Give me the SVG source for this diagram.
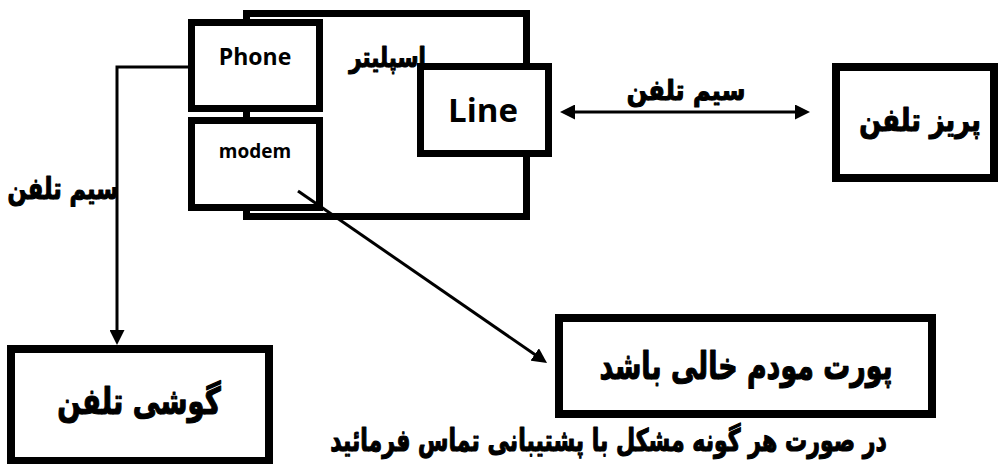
<svg xmlns="http://www.w3.org/2000/svg" width="999" height="464" viewBox="0 0 999 464">
<style>
.box{fill:#fff;stroke:#000;stroke-width:8}
.sbox{fill:#fff;stroke:#000;stroke-width:7}
.lat{font-family:"Open Sans","Liberation Sans",sans-serif;font-weight:700;fill:#000;text-anchor:middle}
.ar{font-family:"DejaVu Sans","Noto Sans",sans-serif;font-weight:700;fill:#000;stroke:#000;stroke-width:1.2;stroke-linejoin:round;text-anchor:middle}
.wire{fill:none;stroke:#000;stroke-width:3}
</style>
<defs>
<marker id="ah" markerUnits="userSpaceOnUse" markerWidth="15" markerHeight="15" refX="5" refY="7.5" orient="auto-start-reverse" viewBox="0 0 15 15">
<path d="M0,0 L15,7.5 L0,15 z" fill="#000"/>
</marker>
</defs>
<rect width="999" height="464" fill="#fff"/>
<g id="splitter">
<rect class="sbox" x="246.5" y="13.5" width="280" height="203" fill="none"/>
<text class="ar" transform="translate(387.5,67) scale(0.765,1)" x="0" y="0" font-size="28">اسپلیتر</text>
</g>
<g id="phone">
<rect class="sbox" x="191.5" y="22.5" width="128" height="86"/>
<text class="lat" x="255" y="65" font-size="23">Phone</text>
</g>
<g id="modem">
<rect class="sbox" x="191.5" y="120.5" width="128" height="87"/>
<text class="lat" x="255" y="158" font-size="19">modem</text>
</g>
<g id="line">
<rect class="sbox" x="420.5" y="66.5" width="128" height="87"/>
<text class="lat" x="483" y="122" font-size="33">Line</text>
</g>
<g id="jack">
<rect class="box" x="836" y="67" width="158" height="111"/>
<text class="ar" transform="translate(920,131) scale(0.8,1)" x="0" y="0" font-size="32">پریز تلفن</text>
</g>
<g id="port">
<rect class="box" x="559" y="318" width="373" height="96"/>
<text class="ar" transform="translate(746,379) scale(0.707,1)" x="0" y="0" font-size="38">پورت مودم خالی باشد</text>
</g>
<g id="handset">
<rect class="box" x="11" y="349" width="258" height="112"/>
<text class="ar" transform="translate(139,414) scale(0.743,1)" x="0" y="0" font-size="37">گوشی تلفن</text>
</g>
<g id="connectors">
<line class="wire" x1="570" y1="112" x2="800" y2="112" marker-start="url(#ah)" marker-end="url(#ah)"/>
<polyline class="wire" points="188,67 117,67 117,335" marker-end="url(#ah)"/>
<line class="wire" x1="298" y1="191" x2="538.8" y2="357.3" marker-end="url(#ah)"/>
<text class="ar" transform="translate(686,100) scale(0.86,1)" x="0" y="0" font-size="28">سیم تلفن</text>
<text class="ar" transform="translate(63,199) scale(0.75,1)" x="0" y="0" font-size="30">سیم تلفن</text>
</g>
<g id="note">
<text class="ar" transform="translate(608.5,451) scale(0.712,1)" x="0" y="0" font-size="31">در صورت هر گونه مشکل با پشتیبانی تماس فرمائید</text>
</g>
</svg>
